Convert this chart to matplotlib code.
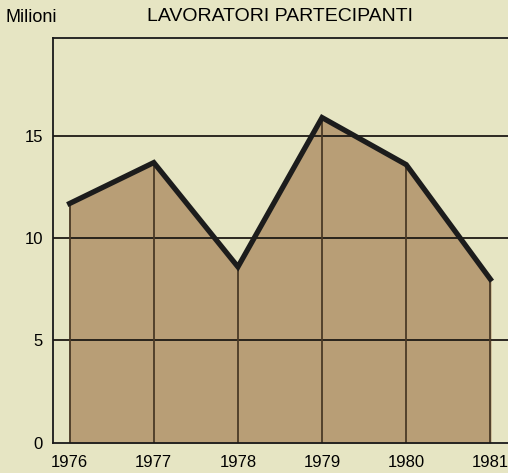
import matplotlib.pyplot as plt

# dati (milioni di lavoratori)
anni = [1976, 1977, 1978, 1979, 1980, 1981]
lavoratori = [11.7, 13.7, 8.6, 15.9, 13.6, 8.0]
yticks = [0, 5, 10, 15]

plt.rcParams['font.family'] = ['Liberation Sans', 'DejaVu Sans']

sfondo = "#e6e5c3"
riempimento = "#b89e76"

fig = plt.figure(figsize=(5.08, 4.73), dpi=100, facecolor=sfondo)
ax = fig.add_axes([0.104, 0.064, 0.896, 0.856])
ax.set_facecolor(sfondo)

ax.fill_between(anni, 0, lavoratori, color=riempimento, zorder=1)
# griglia orizzontale
for v in [5, 10, 15]:
    ax.axhline(v, color="#1e1a14", lw=1.3, zorder=2)
# linee verticali sotto la curva
ax.vlines(anni, 0, lavoratori, color="#4a3a26", lw=1.3, zorder=2)
ax.plot(anni, lavoratori, color="#1c1c1c", lw=3.8, solid_joinstyle="miter", zorder=3)

ax.set_xlim(1975.8, 1981.21)
ax.set_ylim(0, 19.8)
ax.set_xticks(anni)
ax.set_yticks(yticks)
ax.tick_params(axis="x", length=0, labelsize=12, pad=9)
ax.tick_params(axis="y", length=0, labelsize=12, pad=7)
for s in ["left", "top", "bottom"]:
    ax.spines[s].set_linewidth(1.3)
    ax.spines[s].set_color("#1a1a1a")
ax.spines["right"].set_visible(False)

fig.text(0.552, 0.966, "LAVORATORI PARTECIPANTI", ha="center", va="center", fontsize=14)
fig.text(0.01, 0.962, "Milioni", ha="left", va="center", fontsize=13)

fig.savefig("out.png", dpi=100, facecolor=sfondo)
